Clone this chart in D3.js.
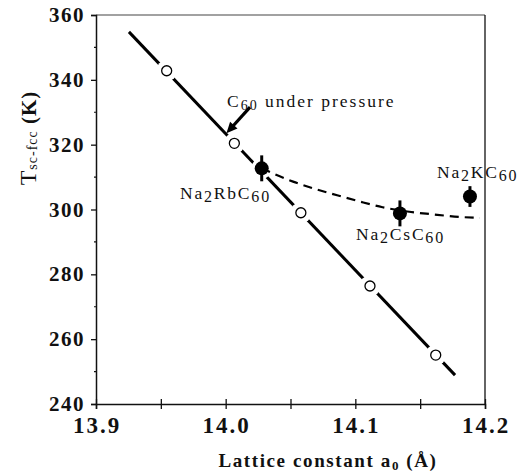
<!DOCTYPE html>
<html><head><meta charset="utf-8">
<script src="https://cdn.jsdelivr.net/npm/d3@7"></script>
<style>
html,body{margin:0;padding:0;background:#fff;}
svg{display:block;}
</style></head>
<body><svg id="c" width="519" height="475" font-family="Liberation Serif, Times New Roman, serif"></svg>
<script>
// ---- data ----
const xTickValues = [13.9, 13.95, 14.0, 14.05, 14.1, 14.15, 14.2];
const xLabelValues = [13.9, 14.0, 14.1, 14.2];
const xTickLabels = ["13.9", "14.0", "14.1", "14.2"];
const yMajorTicks = [240, 260, 280, 300, 320, 340, 360];
const yMinorTicks = [250, 270, 290, 310, 330, 350];
// C60 under pressure (open circles)
const pressureA = [13.9545, 14.0067, 14.058, 14.1113, 14.162];
const pressureT = [342.8, 320.4, 299.0, 276.4, 255.1];
// fitted solid line endpoints
const fitA = [13.9254, 14.1769];
const fitT = [354.8, 248.9];
// Na2AC60 compounds (filled, with error bars)
const compounds = ["Na2RbC60", "Na2CsC60", "Na2KC60"];
const compA = [14.0278, 14.1344, 14.1884];
const compT = [312.7, 298.8, 304.0];
const compErr = [4.0, 4.0, 3.2];
// dashed guide curve
const dashA = [14.0278, 14.052, 14.067, 14.086, 14.104, 14.121, 14.136, 14.160, 14.181, 14.196];
const dashT = [312.7, 308.6, 306.6, 304.4, 302.4, 300.7, 299.6, 298.5, 297.7, 297.4];
// annotation anchors (data units)
const labelA = [13.9648, 14.1005, 14.163];
const labelT = [302.2, 289.7, 308.8];
const arrowA = [14.0188, 14.0006];
const arrowT = [331.6, 323.5];
const noteA = 14.001, noteT = 331.6;

// ---- layout ----
const FONT = "Liberation Serif, Times New Roman, serif";
const svg = d3.select("#c");
const x = d3.scaleLinear().domain([13.9, 14.2]).range([96, 485]);
const y = d3.scaleLinear().domain([240, 360]).range([404, 15]);

// frame (top & right)
svg.append("line").attr("x1", x(13.9)).attr("x2", x(14.2)).attr("y1", y(360)).attr("y2", y(360))
  .attr("stroke", "#444").attr("stroke-width", 1.2);
svg.append("line").attr("x1", x(14.2)).attr("x2", x(14.2)).attr("y1", y(360)).attr("y2", y(240))
  .attr("stroke", "#111").attr("stroke-width", 1.3);

// bottom axis (ticks from d3 axis, labels drawn in serif)
const gx = svg.append("g").attr("transform", `translate(0,${y(240)})`)
  .call(d3.axisBottom(x).tickValues(xTickValues).tickFormat("").tickSize(5));
gx.select(".domain").attr("stroke", "#111").attr("stroke-width", 1.5);
gx.selectAll(".tick line").attr("y1", -5).attr("y2", 5).attr("stroke", "#111").attr("stroke-width", 1.3);
svg.append("g").selectAll("text").data(xLabelValues).join("text")
  .attr("x", d => x(d) + 1).attr("y", y(240) + 29).attr("text-anchor", "middle")
  .attr("font-family", FONT).attr("font-size", 23).attr("font-weight", "bold")
  .attr("letter-spacing", 2).attr("fill", "#111").text((d, i) => xTickLabels[i]);

// left axis
const gy = svg.append("g").attr("transform", `translate(${x(13.9)},0)`)
  .call(d3.axisLeft(y).tickValues(yMajorTicks).tickFormat("").tickSize(5));
gy.select(".domain").attr("stroke", "#111").attr("stroke-width", 1.5);
gy.selectAll(".tick line").attr("stroke", "#111").attr("stroke-width", 1.3);
svg.append("g").selectAll("text").data(yMajorTicks).join("text")
  .attr("x", x(13.9) - 11).attr("y", d => y(d) + 7).attr("text-anchor", "end")
  .attr("font-family", FONT).attr("font-size", 21).attr("font-weight", "bold")
  .attr("letter-spacing", 1.5).attr("fill", "#111").text(d => d);
svg.append("g").selectAll("line").data(yMinorTicks).join("line")
  .attr("x1", x(13.9) - 2).attr("x2", x(13.9)).attr("y1", d => y(d)).attr("y2", d => y(d))
  .attr("stroke", "#111").attr("stroke-width", 1.2);

// axis titles
svg.append("text").attr("x", 328).attr("y", 467).attr("text-anchor", "middle")
  .attr("font-family", FONT).attr("font-size", 19).attr("font-weight", "bold").attr("letter-spacing", 1.6).attr("fill", "#111")
  .call(t => {
    t.append("tspan").text("Lattice constant a");
    t.append("tspan").attr("font-size", 13).attr("dy", 3).text("0");
    t.append("tspan").attr("dy", -3).text(" (Å)");
  });
svg.append("text").attr("transform", "translate(36,138) rotate(-90)").attr("text-anchor", "middle")
  .attr("font-family", FONT).attr("font-size", 24).attr("fill", "#111").attr("letter-spacing", 1)
  .call(t => {
    t.append("tspan").text("T");
    t.append("tspan").attr("font-size", 14).attr("dy", 1).text("sc-fcc");
    t.append("tspan").attr("dy", -1).attr("font-weight", "bold").attr("font-size", 21).text("  (K)");
  });

// solid fit line
svg.append("line").attr("x1", x(fitA[0])).attr("y1", y(fitT[0])).attr("x2", x(fitA[1])).attr("y2", y(fitT[1]))
  .attr("stroke", "#000").attr("stroke-width", 3);
// white gaps around markers on the line
svg.append("g").selectAll("circle").data(pressureA.map((a, i) => [a, pressureT[i]]).concat([[compA[0], compT[0]]]))
  .join("circle").attr("cx", d => x(d[0])).attr("cy", d => y(d[1])).attr("r", 10.5).attr("fill", "#fff");

// dashed curve
svg.append("path").datum(dashA.map((a, i) => [a, dashT[i]]))
  .attr("d", d3.line().x(d => x(d[0])).y(d => y(d[1])).curve(d3.curveMonotoneX))
  .attr("fill", "none").attr("stroke", "#000").attr("stroke-width", 2.2).attr("stroke-dasharray", "9,6");

// open circles
svg.append("g").selectAll("circle").data(pressureA.map((a, i) => [a, pressureT[i]]))
  .join("circle").attr("cx", d => x(d[0])).attr("cy", d => y(d[1])).attr("r", 5)
  .attr("fill", "#fff").attr("stroke", "#000").attr("stroke-width", 1.3);

// filled points with error bars
const comp = svg.append("g").selectAll("g").data(compA.map((a, i) => ({a, t: compT[i], e: compErr[i]}))).join("g");
comp.append("line").attr("x1", d => x(d.a)).attr("x2", d => x(d.a))
  .attr("y1", d => y(d.t + d.e)).attr("y2", d => y(d.t - d.e)).attr("stroke", "#000").attr("stroke-width", 3);
comp.append("circle").attr("cx", d => x(d.a)).attr("cy", d => y(d.t)).attr("r", 7).attr("fill", "#000");

// compound labels with subscripts
function formula(t, s) {
  s.match(/[A-Za-z]+|\d+/g).forEach(p => {
    if (/^\d+$/.test(p)) t.append("tspan").attr("font-size", 16).attr("dy", 3).text(p);
    else t.append("tspan").attr("dy", t.selectAll("tspan").size() ? -3 : 0).text(p);
  });
}
compounds.forEach((c, i) => {
  const t = svg.append("text").attr("x", x(labelA[i])).attr("y", y(labelT[i]))
    .attr("font-family", FONT).attr("font-size", 17.5).attr("letter-spacing", 1.8).attr("fill", "#111");
  formula(t, c);
});

// arrow annotation
const ax1 = x(arrowA[0]), ay1 = y(arrowT[0]), ax2 = x(arrowA[1]), ay2 = y(arrowT[1]);
const ang = Math.atan2(ay2 - ay1, ax2 - ax1), hl = 11, hw = 5;
svg.append("line").attr("x1", ax1).attr("y1", ay1)
  .attr("x2", ax2 - Math.cos(ang) * hl * 0.8).attr("y2", ay2 - Math.sin(ang) * hl * 0.8)
  .attr("stroke", "#000").attr("stroke-width", 3.2);
svg.append("path").attr("d", d3.line()([
  [ax2, ay2],
  [ax2 - Math.cos(ang) * hl - Math.sin(ang) * hw, ay2 - Math.sin(ang) * hl + Math.cos(ang) * hw],
  [ax2 - Math.cos(ang) * hl + Math.sin(ang) * hw, ay2 - Math.sin(ang) * hl - Math.cos(ang) * hw]
]) + "Z").attr("fill", "#000");
const note = svg.append("text").attr("x", x(noteA)).attr("y", y(noteT))
  .attr("font-family", FONT).attr("font-size", 17.5).attr("letter-spacing", 2).attr("fill", "#111");
note.append("tspan").text("C");
note.append("tspan").attr("font-size", 14).attr("dy", 3).text("60");
note.append("tspan").attr("dy", -3).text(" under pressure");
</script></body></html>
